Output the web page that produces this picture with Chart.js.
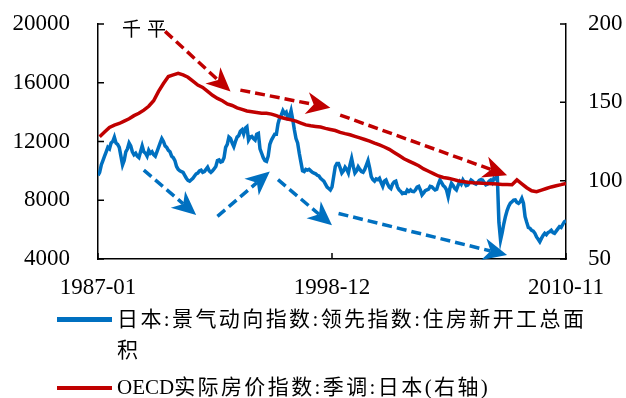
<!DOCTYPE html>
<html>
<head>
<meta charset="utf-8">
<script src="https://cdn.jsdelivr.net/npm/chart.js@4.4.0/dist/chart.umd.min.js"></script>
<style>
  html, body { margin: 0; padding: 0; background: #fff; }
  #wrap { position: relative; width: 626px; height: 398px; }
  #legend .lg-line { position: absolute; left: 57px; width: 55px; height: 4.5px; }
  #legend .lg-text {
    position: absolute; left: 117px; width: 485px;
    font: 21px/31px "Liberation Serif", "Noto Sans CJK SC", serif;
    letter-spacing: 2.4px; color: #000;
  }
  #legend .latin { letter-spacing: 0; }
</style>
</head>
<body>
<div id="wrap">
  <canvas id="chart" width="626" height="398"></canvas>
  <div id="legend"></div>
</div>
<script>
// x 轴按月编号：0 = 1987-01，286 = 2010-11
const xTickMonths = [0, 143, 286];
const xTickLabels = ['1987-01', '1998-12', '2010-11'];
const leftTicks = [4000, 8000, 12000, 16000, 20000];
const rightTicks = [50, 100, 150, 200];

const areaLabel = '日本:景气动向指数:领先指数:住房新开工总面积';
const priceLabel = 'OECD实际房价指数:季调:日本(右轴)';
const unitText = '千平';

// 住房新开工总面积（千平），月度
const areaValues = [
  9700, 9900, 10400, 10700, 11000, 11300, 11600, 11500, 11900, 12000, 12300, 11900,   // 1987
  11800, 11600, 11000, 10400, 10700, 11300, 11500, 11900, 11700, 11300, 11100, 11200, // 1988
  11000, 10900, 11300, 11700, 11300, 11200, 11000, 11400, 11200, 11300, 11100, 11000, // 1989
  11300, 11600, 11900, 12200, 12000, 11700, 11600, 11400, 11300, 11000, 10900, 10700, // 1990
  10300, 10100, 10000, 9950, 9900, 9700, 9500, 9350, 9300, 9400, 9500, 9650,          // 1991
  9800, 9850, 10000, 10050, 9900, 9950, 10100, 10250, 10000, 9900, 10000, 10150,      // 1992
  10300, 10700, 10750, 10600, 10650, 10900, 11600, 11800, 12300, 12200, 11900, 11650, // 1993
  12000, 12300, 12400, 12700, 12800, 12500, 12900, 13000, 12100, 12300, 12350, 12200, // 1994
  12100, 12500, 12550, 11500, 11200, 10900, 10700, 10650, 11000, 11800, 12100, 12300, // 1995
  12500, 12500, 13200, 13600, 13800, 14100, 13900, 14000, 13600, 13700, 14100, 13500, // 1996
  12800, 12200, 11900, 11200, 10600, 10000, 9950, 10100, 10050, 10100, 10000, 9900,   // 1997
  9850, 9800, 9700, 9650, 9500, 9400, 9300, 9100, 8900, 8800, 8700, 8900,            // 1998
  9600, 10300, 10500, 10500, 10200, 9850, 10000, 10250, 10100, 9850, 10400, 10850,    // 1999
  10300, 9850, 10000, 10280, 10100, 9950, 9900, 10100, 10400, 10700, 10200, 9600,     // 2000
  9400, 9300, 9450, 9400, 9500, 9200, 8950, 9300, 9380, 9100, 8900, 8800,            // 2001
  9100, 9250, 9300, 8900, 8700, 8600, 8450, 8500, 8480, 8700, 8600, 8700,            // 2002
  8600, 8580, 8700, 8900, 8950, 8700, 8360, 8500, 8650, 8700, 8750, 8950,            // 2003
  8920, 8800, 8700, 8750, 9100, 9380, 9200, 9000, 8900, 8700, 8240, 8800,            // 2004
  9150, 9000, 8800, 8700, 9000, 9260, 9100, 9380, 9200, 9000, 9040, 9200,            // 2005
  9380, 9300, 9150, 9100, 9200, 9350, 9400, 9380, 9200, 9050, 9100, 9300,            // 2006
  9380, 9200, 9500, 9450, 9700, 6500, 5300, 5800, 6400, 6900, 7300, 7600,            // 2007
  7800, 7900, 8000, 8020, 7850, 7790, 7900, 8130, 7800, 6880, 6500, 6150,            // 2008
  6090, 5950, 5900, 5750, 5500, 5350, 5180, 5400, 5600, 5750, 5650, 5800,            // 2009
  5860, 5950, 5800, 5750, 5900, 6050, 6200, 6150, 6350, 6540, 6600                   // 2010
];

// OECD 实际房价指数，季度（右轴）
const priceValues = [
  128, 131, 134, 135.5,        // 1987
  136.5, 138, 139.5, 141.5,    // 1988
  143, 145, 147.5, 151,        // 1989
  157, 162, 166.5, 167.5,      // 1990
  168.5, 167.5, 166, 163.5,    // 1991
  161, 159.5, 157, 154.5,      // 1992
  152.5, 151, 149, 148,        // 1993
  146.5, 145.5, 144.5, 144,    // 1994
  143.5, 143, 143, 142.5,      // 1995
  141.5, 140.3, 139.5, 138.8,  // 1996
  138, 136.8, 135.6, 135,      // 1997
  134.6, 134.2, 133.4, 132.7,  // 1998
  132, 130.8, 130, 129.3,      // 1999
  128.3, 127.3, 126.3, 125.3,  // 2000
  124, 122.8, 121.5, 120,      // 2001
  118, 116, 114, 112.5,        // 2002
  111, 109.5, 107.5, 106,      // 2003
  104.5, 103, 102, 101.5,      // 2004
  100.8, 100, 99.4, 99,        // 2005
  98.7, 98.5, 98.3, 98.2,      // 2006
  98, 97.8, 97.6, 97.5,        // 2007
  97.4, 100.5, 98, 95.5,       // 2008
  93.5, 93, 94, 95,            // 2009
  96, 96.8, 97.5, 98.3         // 2010
];

// 趋势箭头：[起点月, 起点左轴值, 终点月, 终点左轴值]
const priceArrows = [
  [41, 19500, 81, 15400],
  [87, 15500, 142, 14300],
  [148, 13800, 250, 9700]
];
const areaArrows = [
  [28, 10050, 60, 7000],
  [73, 6900, 105, 9950],
  [110, 9400, 143, 6300],
  [147, 7100, 250, 4270]
];

const BLUE = '#0070C0';
const RED = '#C00000';
const tickFont = { family: 'Liberation Serif', size: 23 };

function drawArrow(ctx, x1, y1, x2, y2, color) {
  const ang = Math.atan2(y2 - y1, x2 - x1);
  const headLen = 24, headHalf = 11, notch = 7;
  const bx = x2 - Math.cos(ang) * (headLen - notch);
  const by = y2 - Math.sin(ang) * (headLen - notch);
  ctx.save();
  ctx.strokeStyle = color;
  ctx.fillStyle = color;
  ctx.lineWidth = 3.5;
  ctx.setLineDash([10, 5]);
  ctx.beginPath();
  ctx.moveTo(x1, y1);
  ctx.lineTo(bx, by);
  ctx.stroke();
  ctx.setLineDash([]);
  ctx.translate(x2, y2);
  ctx.rotate(ang);
  ctx.beginPath();
  ctx.moveTo(0, 0);
  ctx.lineTo(-headLen, -headHalf);
  ctx.lineTo(-headLen + notch, 0);
  ctx.lineTo(-headLen, headHalf);
  ctx.closePath();
  ctx.fill();
  ctx.restore();
}

// 坐标轴刻度线朝内
const innerTicks = {
  id: 'innerTicks',
  afterDraw(chart) {
    const { ctx, chartArea: a, scales } = chart;
    ctx.save();
    ctx.strokeStyle = '#000';
    ctx.lineWidth = 1.5;
    ctx.beginPath();
    leftTicks.forEach(v => {
      const y = scales.y.getPixelForValue(v);
      ctx.moveTo(a.left, y); ctx.lineTo(a.left + 6, y);
    });
    rightTicks.forEach(v => {
      const y = scales.y1.getPixelForValue(v);
      ctx.moveTo(a.right, y); ctx.lineTo(a.right - 6, y);
    });
    xTickMonths.forEach(m => {
      const x = scales.x.getPixelForValue(m);
      ctx.moveTo(x, a.bottom); ctx.lineTo(x, a.bottom - 6);
    });
    ctx.stroke();
    ctx.restore();
  }
};

const annotations = {
  id: 'annotations',
  afterDatasetsDraw(chart) {
    const { ctx, chartArea: a, scales: { x, y } } = chart;
    priceArrows.forEach(([m1, v1, m2, v2]) =>
      drawArrow(ctx, x.getPixelForValue(m1), y.getPixelForValue(v1),
                x.getPixelForValue(m2), y.getPixelForValue(v2), RED));
    areaArrows.forEach(([m1, v1, m2, v2]) =>
      drawArrow(ctx, x.getPixelForValue(m1), y.getPixelForValue(v1),
                x.getPixelForValue(m2), y.getPixelForValue(v2), BLUE));
    ctx.save();
    ctx.fillStyle = '#000';
    ctx.font = '19px "Noto Sans CJK SC"';
    ctx.letterSpacing = '6px';
    ctx.textBaseline = 'middle';
    ctx.fillText(unitText, a.left + 24, a.top + 5);
    ctx.restore();
  }
};

// 纵轴不再为首末标签预留上下空白，绘图区由 layout.padding 决定
function fixVertical(width) {
  return s => {
    s.width = width;
    s.paddingTop = 0;
    s.paddingBottom = 0;
  };
}

const chart = new Chart(document.getElementById('chart'), {
  type: 'line',
  data: {
    datasets: [
      {
        label: areaLabel,
        data: areaValues.map((v, i) => ({ x: i, y: v })),
        borderColor: BLUE,
        borderWidth: 3.5,
        yAxisID: 'y',
        order: 1
      },
      {
        label: priceLabel,
        data: priceValues.map((v, q) => ({ x: q * 3 + 1, y: v })),
        borderColor: RED,
        borderWidth: 3.5,
        yAxisID: 'y1',
        order: 0
      }
    ]
  },
  options: {
    responsive: false,
    animation: false,
    layout: { padding: { top: 24 } },
    elements: { point: { radius: 0 }, line: { tension: 0 } },
    plugins: { legend: { display: false }, tooltip: { enabled: false } },
    scales: {
      x: {
        type: 'linear',
        min: 0,
        max: 286,
        afterBuildTicks: s => { s.ticks = xTickMonths.map(v => ({ value: v })); },
        afterFit: s => { s.height = 139; },
        ticks: {
          callback: (v, i) => xTickLabels[i],
          font: tickFont,
          color: '#000',
          padding: 15,
          maxRotation: 0,
          autoSkip: false
        },
        grid: { drawOnChartArea: false, drawTicks: false },
        border: { color: '#000', width: 1.5 }
      },
      y: {
        position: 'left',
        min: 4000,
        max: 20000,
        afterBuildTicks: s => { s.ticks = leftTicks.map(v => ({ value: v })); },
        afterFit: fixVertical(98),
        ticks: { font: tickFont, color: '#000', padding: 28, callback: v => String(v) },
        grid: { drawOnChartArea: false, drawTicks: false },
        border: { color: '#000', width: 1.5 }
      },
      y1: {
        position: 'right',
        min: 50,
        max: 200,
        afterBuildTicks: s => { s.ticks = rightTicks.map(v => ({ value: v })); },
        afterFit: fixVertical(60),
        ticks: { font: tickFont, color: '#000', padding: 22, callback: v => String(v) },
        grid: { drawOnChartArea: false, drawTicks: false },
        border: { color: '#000', width: 1.5 }
      }
    }
  },
  plugins: [innerTicks, annotations]
});

// 图例：长文本自动换行，西文部分不加字距
const legendTops = [303.5, 372];
const legendEl = document.getElementById('legend');
chart.data.datasets.forEach((ds, i) => {
  const top = legendTops[i];
  const line = document.createElement('div');
  line.className = 'lg-line';
  line.style.top = (top + 13.5) + 'px';
  line.style.background = ds.borderColor;
  const text = document.createElement('div');
  text.className = 'lg-text';
  text.style.top = top + 'px';
  ds.label.split(/([A-Za-z]+)/).forEach(part => {
    if (!part) return;
    const span = document.createElement('span');
    if (/^[A-Za-z]+$/.test(part)) span.className = 'latin';
    span.textContent = part;
    text.appendChild(span);
  });
  legendEl.appendChild(line);
  legendEl.appendChild(text);
});
</script>
</body>
</html>
